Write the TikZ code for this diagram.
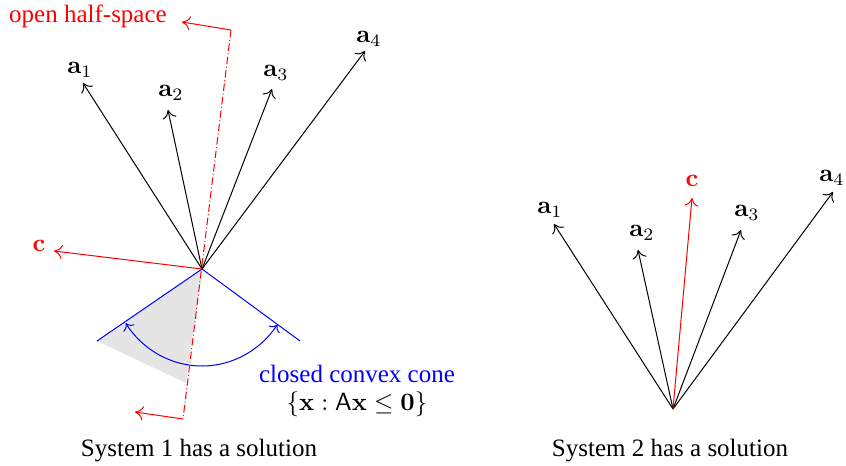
\documentclass[tikz,border=0pt]{standalone}
\usepackage[no-math]{fontspec}
\setmainfont{Liberation Serif}
\usetikzlibrary{arrows.meta}
\begin{document}
\begin{tikzpicture}[x=0.4pt,y=-0.4pt,
  vec/.style={-{To[length=3.3pt,width=5.6pt]}},
  lbl/.style={inner sep=0pt},
  halfline/.style={red,dash pattern=on 3pt off 1pt on 0.4pt off 1pt}]
\useasboundingbox (0,0) rectangle (846,466);
% ---------------- left: System 1 ----------------
\coordinate (O) at (202,269);
\coordinate (A1) at (83,83);
\coordinate (A2) at (168,110);
\coordinate (A3) at (272,89);
\coordinate (A4) at (365,51);
\coordinate (C) at (54,251);
\coordinate (KL) at (97,341);
\coordinate (KR) at (300,341);
\coordinate (KB) at (186,383);
\coordinate (HT) at (231,30);
\coordinate (HB) at (183,419);
\coordinate (HTa) at (182,22);
\coordinate (HBa) at (135,412);
\fill[black!10] (O) -- (KL) -- (KB) -- cycle;
\draw[blue] (KL) -- (O) -- (KR);
\draw[blue,<->] ([shift={(146:92 and 97)}]O) arc[start angle=146,end angle=35,x radius=92,y radius=97];
\foreach \t in {A1,A2,A3,A4} \draw[vec] (O) -- (\t);
\draw[vec,red] (O) -- (C);
\draw[halfline] (HT) -- (HB);
\draw[vec,red] (HT) -- (HTa);
\draw[vec,red] (HB) -- (HBa);
\node[lbl] (la1) at (80,70) {$\mathbf{a}_1$};
\node[lbl] (la2) at (171,93) {$\mathbf{a}_2$};
\node[lbl] (la3) at (276,73) {$\mathbf{a}_3$};
\node[lbl] (la4) at (369,39) {$\mathbf{a}_4$};
\node[lbl,red] (lc) at (39,246) {$\mathbf{c}$};
\node[lbl,red] (lhs) at (88,16) {open half-space};
\node[lbl,blue] (lcone) at (357,374) {closed convex cone};
\node[lbl] (lset) at (357,404) {$\{\mathbf{x} : \mathsf{A}\mathbf{x} \leq \mathbf{0}\}$};
\node[lbl] (s1) at (199,451) {System 1 has a solution};
% ---------------- right: System 2 ----------------
\coordinate (P) at (673,409);
\coordinate (B1) at (554,224);
\coordinate (B2) at (638,250);
\coordinate (B3) at (741,230);
\coordinate (B4) at (833,192);
\coordinate (D) at (692,198);
\foreach \t in {B1,B2,B3,B4} \draw[vec] (P) -- (\t);
\draw[vec,red] (P) -- (D);
\node[lbl] (lb1) at (550,210) {$\mathbf{a}_1$};
\node[lbl] (lb2) at (642,233) {$\mathbf{a}_2$};
\node[lbl] (lb3) at (747,213) {$\mathbf{a}_3$};
\node[lbl,anchor=east] (lb4) at (845,178) {$\mathbf{a}_4$};
\node[lbl,red] (ld) at (692,181) {$\mathbf{c}$};
\node[lbl] (s2) at (670,451) {System 2 has a solution};
\end{tikzpicture}
\end{document}
